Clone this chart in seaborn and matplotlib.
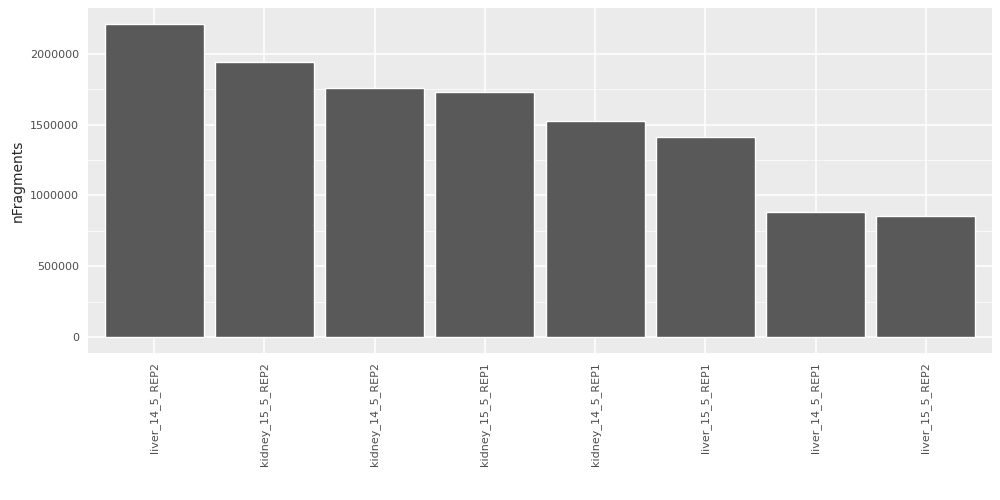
import matplotlib
matplotlib.use("Agg")
import matplotlib.pyplot as plt
import seaborn as sns
import pandas as pd

samples = ["liver_14_5_REP2", "kidney_15_5_REP2", "kidney_14_5_REP2", "kidney_15_5_REP1",
           "kidney_14_5_REP1", "liver_15_5_REP1", "liver_14_5_REP1", "liver_15_5_REP2"]
nFragments = [2211000, 1944000, 1761000, 1726000, 1523000, 1411000, 884000, 856000]

sns.set_theme(style="darkgrid", rc={"axes.facecolor": "#EBEBEB", "grid.color": "white"})
plt.rcParams['font.family'] = ['DejaVu Sans']
fig = plt.figure(figsize=(10, 5), dpi=100)
ax = fig.add_axes([0.088, 0.294, 0.904, 0.69])
df = pd.DataFrame({"sample": samples, "nFragments": nFragments})
sns.barplot(data=df, x="sample", y="nFragments", color="#595959", saturation=1, width=0.9, ax=ax)
top = max(nFragments)
ax.set_ylim(-0.05 * top, 1.05 * top)
ax.set_xlim(-0.6, len(samples) - 0.4)
ax.set_yticks([0, 500000, 1000000, 1500000, 2000000])
ax.set_yticklabels(["0", "500000", "1000000", "1500000", "2000000"])
ax.set_yticks([250000, 750000, 1250000, 1750000], minor=True)
ax.grid(which="minor", axis="y", color="white", linewidth=0.5)
ax.grid(which="major", color="white", linewidth=1.1)
ax.tick_params(axis="x", rotation=90, labelsize=8, colors="#4D4D4D", length=3, width=0.8, labelcolor="#4D4D4D")
ax.tick_params(axis="y", labelsize=8, colors="#4D4D4D", length=3, width=0.8)
ax.tick_params(which="minor", length=0)
for lab in ax.get_xticklabels():
    lab.set_color("#4D4D4D")
ax.set_xlabel("")
ax.set_ylabel("nFragments", fontsize=10)
for s in ax.spines.values():
    s.set_visible(False)
fig.savefig("out.png", dpi=100)
